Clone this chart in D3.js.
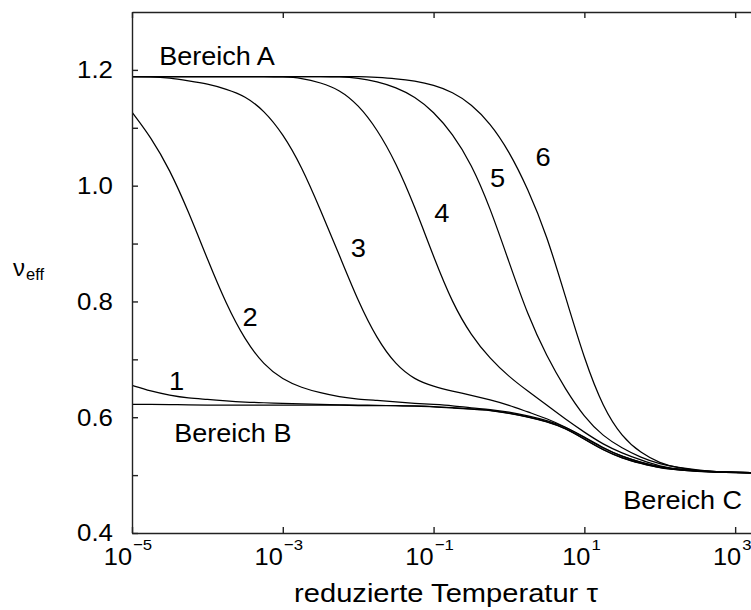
<!DOCTYPE html>
<html>
<head>
<meta charset="utf-8">
<script src="https://cdn.jsdelivr.net/npm/d3@7"></script>
<style>
  body { margin: 0; background: #fff; }
  text { font-family: "Liberation Sans", Arial, Helvetica, sans-serif; fill: #000; }
</style>
</head>
<body>
<script>
width = 751;
height = 610;

// reduced temperature grid, log10(tau), quarter decades
logTau = [-5, -4.75, -4.5, -4.25, -4, -3.75, -3.5, -3.25, -3, -2.75, -2.5, -2.25,
          -2, -1.75, -1.5, -1.25, -1, -0.75, -0.5, -0.25, 0, 0.25, 0.5, 0.75,
          1, 1.25, 1.5, 1.75, 2, 2.25, 2.5, 2.75, 3, 3.25];

// effective exponent nu_eff for each curve
nuB = [0.622, 0.622, 0.622, 0.621, 0.621, 0.621, 0.621, 0.621, 0.621, 0.621, 0.621, 0.621,
       0.620, 0.620, 0.620, 0.619, 0.618, 0.616, 0.614, 0.612, 0.607, 0.6005, 0.5925, 0.581,
       0.562, 0.543, 0.529, 0.520, 0.512, 0.5087, 0.5065, 0.505, 0.504, 0.5035];
nu1 = [0.655, 0.645, 0.638, 0.633, 0.631, 0.628, 0.626, 0.625, 0.624, 0.623, 0.622, 0.6215,
       0.621, 0.6205, 0.620, 0.6195, 0.6185, 0.6165, 0.6145, 0.6125, 0.6075, 0.601, 0.593, 0.5815,
       0.5625, 0.5435, 0.5295, 0.5205, 0.5125, 0.509, 0.5067, 0.5052, 0.5042, 0.5037];
nu2 = [1.127, 1.084, 1.028, 0.955, 0.873, 0.795, 0.733, 0.690, 0.665, 0.651, 0.642, 0.635,
       0.631, 0.629, 0.6265, 0.624, 0.622, 0.620, 0.616, 0.6135, 0.609, 0.6025, 0.5945, 0.5835,
       0.565, 0.546, 0.532, 0.522, 0.5135, 0.5095, 0.507, 0.5055, 0.5045, 0.504];
nu3 = [1.1885, 1.1885, 1.186, 1.181, 1.176, 1.167, 1.155, 1.130, 1.090, 1.033, 0.958, 0.880,
       0.800, 0.735, 0.690, 0.665, 0.653, 0.645, 0.638, 0.630, 0.621, 0.609, 0.598, 0.583,
       0.566, 0.547, 0.532, 0.522, 0.514, 0.5095, 0.507, 0.5055, 0.5045, 0.504];
nu4 = [1.1885, 1.1885, 1.1885, 1.1885, 1.1885, 1.1885, 1.1885, 1.1885, 1.188, 1.186, 1.178, 1.166,
       1.140, 1.098, 1.040, 0.964, 0.877, 0.797, 0.741, 0.701, 0.670, 0.645, 0.621, 0.5964,
       0.574, 0.553, 0.538, 0.526, 0.515, 0.5104, 0.5075, 0.506, 0.505, 0.504];
nu5 = [1.1885, 1.1885, 1.1885, 1.1885, 1.1885, 1.1885, 1.1885, 1.1885, 1.1885, 1.1885, 1.1885, 1.188,
       1.186, 1.180, 1.170, 1.154, 1.128, 1.090, 1.038, 0.962, 0.868, 0.776, 0.705, 0.648,
       0.600, 0.567, 0.5465, 0.5302, 0.519, 0.513, 0.5087, 0.506, 0.5047, 0.504];
nu6 = [1.1885, 1.1885, 1.1885, 1.1885, 1.1885, 1.1885, 1.1885, 1.1885, 1.1885, 1.1885, 1.1885, 1.1885,
       1.1885, 1.187, 1.185, 1.181, 1.174, 1.162, 1.141, 1.108, 1.060, 0.995, 0.915, 0.808,
       0.700, 0.616, 0.566, 0.538, 0.5207, 0.512, 0.5078, 0.5057, 0.5045, 0.504];
allCurves = [nuB, nu1, nu2, nu3, nu4, nu5, nu6];

// axis ticks
xTickExp = [-5, -3, -1, 1, 3];
yTicks = [0.4, 0.5, 0.6, 0.7, 0.8, 0.9, 1.0, 1.1, 1.2];
yLabelTicks = [0.4, 0.6, 0.8, 1.0, 1.2];

// curve numbers and region names, placed in data units
curveNames = ["1", "2", "3", "4", "5", "6"];
curveNameLogTau = [-4.407, -3.435, -1.999, -0.889, -0.150, 0.451];
curveNameNu = [0.664, 0.773, 0.893, 0.954, 1.014, 1.050];
regionNames = ["Bereich A", "Bereich B", "Bereich C"];
regionLogTau = [-4.64, -4.44, 1.517];
regionNu = [1.2085, 0.5577, 0.4416];

plot = {"left": 132, "top": 12, "right": 754, "bottom": 533};
x = d3.scaleLog().domain([1e-5, Math.pow(10, 3.25)]).range([plot.left, plot.right]);
y = d3.scaleLinear().domain([0.4, 1.3]).range([plot.bottom, plot.top]);

svg = d3.select("body").append("svg")
  .attr("width", width)
  .attr("height", height);
svg.append("rect").attr("width", width).attr("height", height).attr("fill", "#fff");

svg.append("clipPath").attr("id", "plotclip")
  .append("rect")
  .attr("x", plot.left).attr("y", plot.top)
  .attr("width", plot.right - plot.left).attr("height", plot.bottom - plot.top);

// text stretched slightly wider than the font's own metrics
function wideText(parent, px, py, sx, str, size, anchor) {
  var g = parent.append("g").attr("transform", "translate(" + px + "," + py + ") scale(" + sx + ",1)");
  g.append("text").attr("text-anchor", anchor || "start")
    .attr("font-size", size).text(str);
  return g;
}

// curves
line = d3.line()
  .x(function(d, i) { return x(Math.pow(10, logTau[i])); })
  .y(function(d) { return y(d); })
  .curve(d3.curveBasis);
svg.append("g").attr("clip-path", "url(#plotclip)")
  .selectAll("path").data(allCurves).enter().append("path")
  .attr("d", line)
  .attr("fill", "none")
  .attr("stroke", "#000")
  .attr("stroke-width", 1.25);

// axes, ticks pointing inward
xTicks = xTickExp.map(function(e) { return Math.pow(10, e); });
axB = svg.append("g").attr("transform", "translate(0," + plot.bottom + ")")
  .call(d3.axisBottom(x).tickValues(xTicks).tickSizeInner(-6).tickSizeOuter(0).tickFormat(""));
axT = svg.append("g").attr("transform", "translate(0," + plot.top + ")")
  .call(d3.axisTop(x).tickValues(xTicks).tickSizeInner(-6).tickSizeOuter(0).tickFormat(""));
axL = svg.append("g").attr("transform", "translate(" + plot.left + ",0)")
  .call(d3.axisLeft(y).tickValues(yTicks).tickSizeInner(-6).tickSizeOuter(0).tickFormat(""));
[axB, axT, axL].forEach(function(a) {
  a.selectAll("path, line").attr("stroke", "#222").attr("stroke-width", 1.4);
});

// y tick labels
yLabelTicks.forEach(function(v) {
  wideText(svg, 113, y(v), 1.1, d3.format(".1f")(v), 23.5, "end")
    .select("text").attr("dy", "0.36em");
});

// x tick labels as powers of ten
xTickExp.forEach(function(e) {
  var shift = e < 0 ? 0 : 6;
  var g = svg.append("g")
    .attr("transform", "translate(" + (x(Math.pow(10, e)) + shift) + ",565) scale(1.08,1)");
  g.append("text").attr("text-anchor", "end").attr("font-size", 23.5).text("10");
  g.append("text").attr("x", 1).attr("y", -15).attr("font-size", 15.5)
    .text(e < 0 ? "\u2212" + Math.abs(e) : String(e));
});

// axis titles
wideText(svg, 446, 601.5, 1.12, "reduzierte Temperatur \u03c4", 26, "middle");
ylab = svg.append("text").attr("x", 13).attr("y", 275.5);
ylab.append("tspan").attr("font-size", 24).text("\u03bd");
ylab.append("tspan").attr("font-size", 16.5).attr("dx", 1).attr("dy", 4.5).text("eff");

// curve numbers
curveNames.forEach(function(s, i) {
  wideText(svg, x(Math.pow(10, curveNameLogTau[i])), y(curveNameNu[i]), 1.05, s, 26, "middle")
    .select("text").attr("dy", "0.36em");
});

// region names
regionNames.forEach(function(s, i) {
  wideText(svg, x(Math.pow(10, regionLogTau[i])), y(regionNu[i]), 1.04, s, 26, "start");
});
</script>
</body>
</html>
